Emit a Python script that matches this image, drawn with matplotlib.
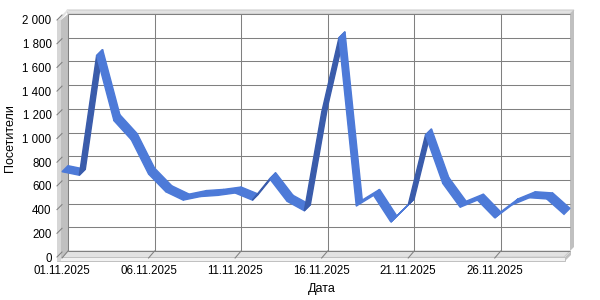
import matplotlib
matplotlib.use("Agg")
import matplotlib.pyplot as plt
from matplotlib.patches import Polygon

# ---- data ----
dates = [f"{d:02d}.11.2025" for d in range(1, 31)]
visitors = [720, 690, 1700, 1150, 990, 700, 550, 480, 510, 520,
            540, 480, 660, 470, 390, 1220, 1850, 430, 520, 295,
            440, 1030, 620, 420, 480, 330, 440, 500, 490, 360]
y_ticks = [0, 200, 400, 600, 800, 1000, 1200, 1400, 1600, 1800, 2000]
y_tick_labels = ["0", "200", "400", "600", "800", "1 000", "1 200",
                 "1 400", "1 600", "1 800", "2 000"]
x_tick_idx = [0, 5, 10, 15, 20, 25]
x_label = "Дата"
y_label = "Посетители"

plt.rcParams['font.family'] = ['Liberation Sans', 'DejaVu Sans']
FS = 8.3

W, H, DPI = 600, 300, 100
fig = plt.figure(figsize=(W / DPI, H / DPI), dpi=DPI)
L, R, T, B = 62, 564, 20, 257
ax = fig.add_axes([L / W, 1 - B / H, (R - L) / W, (B - T) / H])
n = len(visitors)
xmax = n - 1
ax.set_xlim(0, xmax)
ax.set_ylim(0, 2000)
ax.set_facecolor('none')
for s in ax.spines.values():
    s.set_visible(False)

PX = (R - L) / xmax      # pixels per x unit
PY = (B - T) / 2000.0    # pixels per value unit
D = 6                    # depth in pixels


def P(x, v, ox=0.0, oy=0.0):
    """data point plus a screen pixel offset (ox right, oy down)"""
    return (x + ox / PX, v - oy / PY)


def poly(pts, fc, ec='none', lw=0.7, z=1):
    ax.add_patch(Polygon(pts, closed=True, facecolor=fc, edgecolor=ec,
                         linewidth=lw, clip_on=False, zorder=z))


grid_c = '#808080'
wall_c = '#c0c0c0'
light_c = '#e2e2e2'

# back wall top strip
poly([P(0, 2000, D - 1, -D - 4), P(xmax, 2000, D + 4, -D - 4),
      P(xmax, 2000, D, -D), P(0, 2000, D, -D)], light_c, '#c8c8c8', z=1)
# back wall right side
poly([P(xmax, 2000, D, -D), P(xmax, 2000, D + 4, -D - 4),
      P(xmax, 0, D + 4, -D - 4), P(xmax, 0, D, -D)], wall_c, z=1)
# floor top face
poly([P(0, 0, -1, 1), P(xmax, 0, 0, 0), P(xmax, 0, D, -D), P(0, 0, D, -D)],
     light_c, '#c8c8c8', z=1)
# floor front face
poly([P(0, 0, -5, 0), P(xmax, 0, 1, 0), P(xmax, 0, 1, 4), P(0, 0, -5, 4)],
     '#f2f2f2', '#c0c0c0', z=1.1)
# floor right side
poly([P(xmax, 0, 1, 0), P(xmax, 0, D + 1, -D), P(xmax, 0, D + 1, -D + 4),
      P(xmax, 0, 1, 4)], wall_c, z=1.1)
# left wall front face
poly([P(0, 2000, -5, 0), P(0, 2000, -1, 0), P(0, 0, -1, 4), P(0, 0, -5, 4)],
     '#d6d6d6', z=1.2)
# left wall top
poly([P(0, 2000, -5, 0), P(0, 2000, D - 1, -D - 4), P(0, 2000, D + 1, -D - 4),
      P(0, 2000, -1, 0)], light_c, z=1.2)
# left wall inner face
poly([P(0, 2000, -1, 0), P(0, 2000, D, -D), P(0, 0, D, -D), P(0, 0, -1, 1)],
     wall_c, z=1.2)

# back wall gridlines
lw_g = 0.75
for v in y_ticks:
    a, b = P(0, v, D, -D), P(xmax, v, D, -D)
    ax.plot([a[0], b[0]], [a[1], b[1]], color=grid_c, lw=lw_g, zorder=2,
            clip_on=False, solid_capstyle='butt')
    c = P(0, v, -5, 0)
    d = P(0, v, 0, -5)
    ax.plot([c[0], d[0]], [c[1], d[1]], color=grid_c, lw=lw_g, zorder=2,
            clip_on=False)
for i in x_tick_idx:
    a, b = P(i, 0, D, -D), P(i, 2000, D, -D)
    ax.plot([a[0], b[0]], [a[1], b[1]], color=grid_c, lw=lw_g, zorder=2,
            clip_on=False, solid_capstyle='butt')
    c = P(i, 0, 0, 1)
    ax.plot([c[0], a[0]], [c[1], a[1]], color=grid_c, lw=lw_g, zorder=2,
            clip_on=False)

# ribbon
col_top = '#4d7ad8'
col_under = '#3a5cab'
for i in range(n - 1):
    p0 = P(i, visitors[i])
    p1 = P(i + 1, visitors[i + 1])
    p1b = P(i + 1, visitors[i + 1], D, -D)
    p0b = P(i, visitors[i], D, -D)
    sx = PX
    sy = -(visitors[i + 1] - visitors[i]) * PY   # screen, y down
    cross = sx * (-D) - sy * D
    fc = col_under if cross > 0 else col_top
    poly([p0, p1, p1b, p0b], fc, fc, lw=1.0, z=3)

# ticks & labels
ax.set_yticks(y_ticks, labels=y_tick_labels)
ax.set_xticks(x_tick_idx, labels=[dates[i] for i in x_tick_idx])
ax.tick_params(axis='y', length=0, pad=7.5, labelsize=FS)
ax.tick_params(axis='x', length=0, pad=6, labelsize=FS)
fig.text(10 / W, 1 - 138 / H, y_label, rotation=90, ha='center',
         va='center', fontsize=9)
fig.text(322 / W, 1 - 289 / H, x_label, ha='center', va='center',
         fontsize=9)

fig.savefig('out.png', dpi=DPI, facecolor='white')
